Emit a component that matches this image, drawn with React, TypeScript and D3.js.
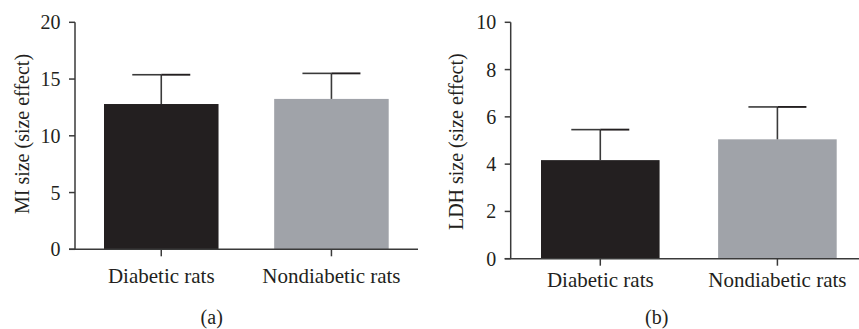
import React from "react";
import * as d3 from "d3";

const categories = ["Diabetic rats", "Nondiabetic rats"];
const miMeans = [12.8, 13.25];
const miErrors = [2.58, 2.25];
const miTicks = [0, 5, 10, 15, 20];
const ldhMeans = [4.17, 5.05];
const ldhErrors = [1.29, 1.37];
const ldhTicks = [0, 2, 4, 6, 8, 10];
const barColors = ["#231f20", "#a0a3a9"];

const FONT = "'Liberation Serif', 'Times New Roman', serif";
const INK = "#231f20";
const AXIS = "#3a3a3a";

type PanelProps = {
  means: number[];
  errors: number[];
  ticks: number[];
  yMax: number;
  yLabel: string;
  tag: string;
  axisX: number;
  yTop: number;
  yBottom: number;
  bandRange: [number, number];
  padInner: number;
  xAxisEnd: number;
  yLabelX: number;
  yLabelY: number;
  catBaseline: number;
  tagX: number;
  tagY: number;
};

function Panel(p: PanelProps) {
  const y = d3.scaleLinear().domain([0, p.yMax]).range([p.yBottom, p.yTop]);
  const x = d3
    .scaleBand<string>()
    .domain(categories)
    .range(p.bandRange)
    .paddingInner(p.padInner)
    .paddingOuter(0);
  const bw = x.bandwidth();
  const capHalf = 29;
  const tickLen = 6;
  return (
    <g>
      {categories.map((c, i) => (
        <rect
          key={c}
          x={x(c)!}
          y={y(p.means[i])}
          width={bw}
          height={y(0) - y(p.means[i])}
          fill={barColors[i]}
        />
      ))}
      {categories.map((c, i) => {
        const cx = x(c)! + bw / 2;
        const top = y(p.means[i] + p.errors[i]);
        return (
          <g key={c + "err"} stroke={AXIS} strokeWidth={1.6}>
            <line x1={cx} x2={cx} y1={y(p.means[i])} y2={top} />
            <line x1={cx - capHalf} x2={cx} y1={top} y2={top} />
            <line x1={cx} x2={cx + capHalf} y1={top} y2={top} stroke={INK} strokeWidth={1.9} />
          </g>
        );
      })}
      {/* y axis */}
      <line x1={p.axisX} x2={p.axisX} y1={p.yTop} y2={p.yBottom} stroke={AXIS} strokeWidth={1.5} />
      {p.ticks.map((t) => (
        <g key={t}>
          <line
            x1={p.axisX - tickLen}
            x2={p.axisX}
            y1={y(t)}
            y2={y(t)}
            stroke={AXIS}
            strokeWidth={1.5}
          />
          <text
            x={p.axisX - tickLen - 8.5}
            y={y(t)}
            dy="0.35em"
            textAnchor="end"
            fontFamily={FONT}
            fontSize={20}
            fill={INK}
          >
            {t}
          </text>
        </g>
      ))}
      {/* x axis */}
      <line
        x1={p.axisX - tickLen}
        x2={p.xAxisEnd}
        y1={p.yBottom}
        y2={p.yBottom}
        stroke={AXIS}
        strokeWidth={1.5}
      />
      {categories.map((c) => {
        const cx = x(c)! + bw / 2;
        return (
          <g key={c + "tick"}>
            <line x1={cx} x2={cx} y1={p.yBottom} y2={p.yBottom + 7} stroke={AXIS} strokeWidth={1.5} />
            <text
              x={cx}
              y={p.catBaseline}
              textAnchor="middle"
              fontFamily={FONT}
              fontSize={21}
              fill={INK}
            >
              {c}
            </text>
          </g>
        );
      })}
      <text
        transform={`translate(${p.yLabelX},${p.yLabelY}) rotate(-90)`}
        textAnchor="middle"
        fontFamily={FONT}
        fontSize={20}
        fill={INK}
      >
        {p.yLabel}
      </text>
      <text x={p.tagX} y={p.tagY} textAnchor="middle" fontFamily={FONT} fontSize={20} fill={INK}>
        {p.tag}
      </text>
    </g>
  );
}

export default function App() {
  return (
    <svg
      width={859}
      height={329}
      style={{ position: "absolute", left: 0, top: 0, background: "#fff" }}
    >
      <Panel
        means={miMeans}
        errors={miErrors}
        ticks={miTicks}
        yMax={20}
        yLabel="MI size (size effect)"
        tag="(a)"
        axisX={75}
        yTop={22.3}
        yBottom={249.3}
        bandRange={[104, 388.7]}
        padInner={0.327}
        xAxisEnd={418}
        yLabelX={28.5}
        yLabelY={134}
        catBaseline={282.7}
        tagX={211.7}
        tagY={324}
      />
      <Panel
        means={ldhMeans}
        errors={ldhErrors}
        ticks={ldhTicks}
        yMax={10}
        yLabel="LDH size (size effect)"
        tag="(b)"
        axisX={510.7}
        yTop={22.3}
        yBottom={258.7}
        bandRange={[541, 836.7]}
        padInner={0.3305}
        xAxisEnd={859}
        yLabelX={463.3}
        yLabelY={141.7}
        catBaseline={287.3}
        tagX={656.7}
        tagY={324}
      />
    </svg>
  );
}
